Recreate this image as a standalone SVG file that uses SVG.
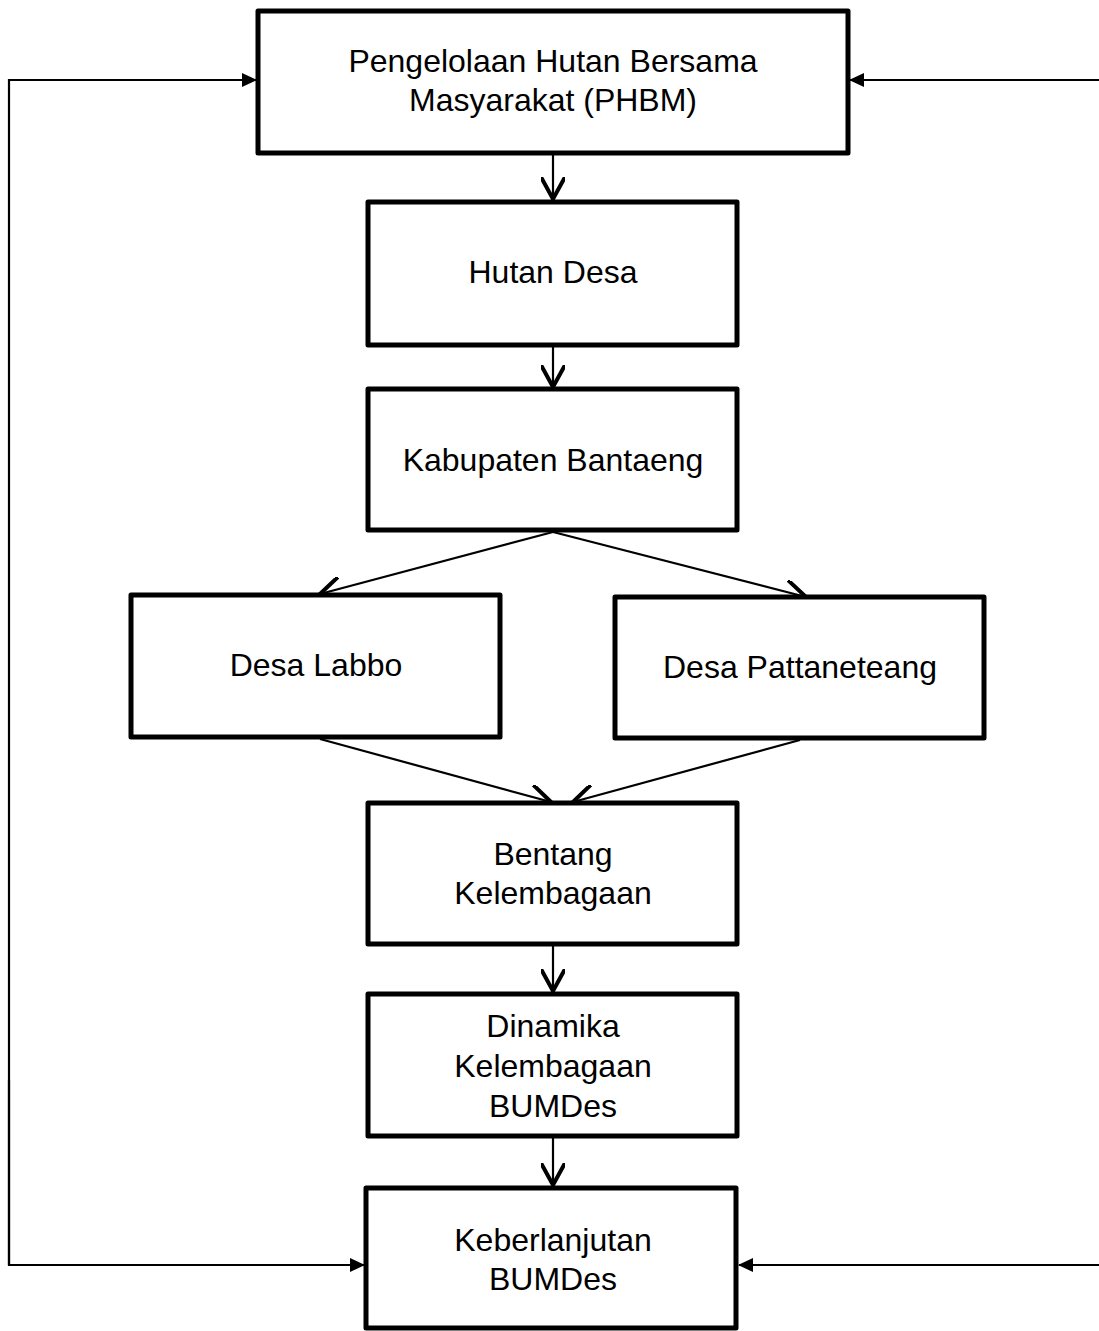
<svg xmlns="http://www.w3.org/2000/svg" width="1099" height="1331" viewBox="0 0 1099 1331">
<style>
.box{fill:#fff;stroke:#000;stroke-width:5;stroke-linejoin:round}
.t{font-family:"Liberation Sans",Arial,sans-serif;font-size:32px;fill:#000;text-anchor:middle}
.c{fill:none;stroke:#000;stroke-width:2.2}
.o{marker-end:url(#open)}
.f{marker-end:url(#fill)}
</style>
<defs>
<marker id="open" markerWidth="24" markerHeight="24" refX="11" refY="6" orient="auto" markerUnits="userSpaceOnUse" viewBox="0 0 12 12">
<path d="M0,0 L11,6 L0,12" fill="none" stroke="#000" stroke-width="2"/>
</marker>
<marker id="fill" markerWidth="16" markerHeight="16" refX="14" refY="8" orient="auto" markerUnits="userSpaceOnUse" viewBox="0 0 16 16">
<path d="M0,1 L15,8 L0,15 Z" fill="#000"/>
</marker>
</defs>
<g id="connectors">
<path class="c o" d="M553,155 V199"/>
<path class="c o" d="M553,347 V387"/>
<path class="c o" d="M553,532 L320,594"/>
<path class="c o" d="M553,532 L806,597"/>
<path class="c o" d="M320,739 L551,802"/>
<path class="c o" d="M800,740 L573,802"/>
<path class="c o" d="M553,946 V991"/>
<path class="c o" d="M553,1138 V1185"/>
<path class="c f" d="M9,1265 V80 H256"/>
<path class="c f" d="M9,1080 V1265 H364"/>
<path class="c f" d="M1099,80 H850"/>
<path class="c f" d="M1099,1265 H739"/>
</g>
<g id="phbm"><rect class="box" x="258" y="11" width="590" height="142"/><text class="t" x="553" y="72">Pengelolaan Hutan Bersama</text><text class="t" x="553" y="111">Masyarakat (PHBM)</text></g>
<g id="hutan-desa"><rect class="box" x="368" y="202" width="369" height="143"/><text class="t" x="553" y="283">Hutan Desa</text></g>
<g id="kabupaten"><rect class="box" x="368" y="389" width="369" height="141"/><text class="t" x="553" y="471">Kabupaten Bantaeng</text></g>
<g id="desa-labbo"><rect class="box" x="131" y="595" width="369" height="142"/><text class="t" x="316" y="676">Desa Labbo</text></g>
<g id="desa-pattaneteang"><rect class="box" x="615" y="597" width="369" height="141"/><text class="t" x="800" y="678">Desa Pattaneteang</text></g>
<g id="bentang"><rect class="box" x="368" y="803" width="369" height="141"/><text class="t" x="553" y="865">Bentang</text><text class="t" x="553" y="904">Kelembagaan</text></g>
<g id="dinamika"><rect class="box" x="368" y="994" width="369" height="142"/><text class="t" x="553" y="1037">Dinamika</text><text class="t" x="553" y="1077">Kelembagaan</text><text class="t" x="553" y="1117">BUMDes</text></g>
<g id="keberlanjutan"><rect class="box" x="366" y="1188" width="370" height="140"/><text class="t" x="553" y="1251">Keberlanjutan</text><text class="t" x="553" y="1290">BUMDes</text></g>
</svg>
